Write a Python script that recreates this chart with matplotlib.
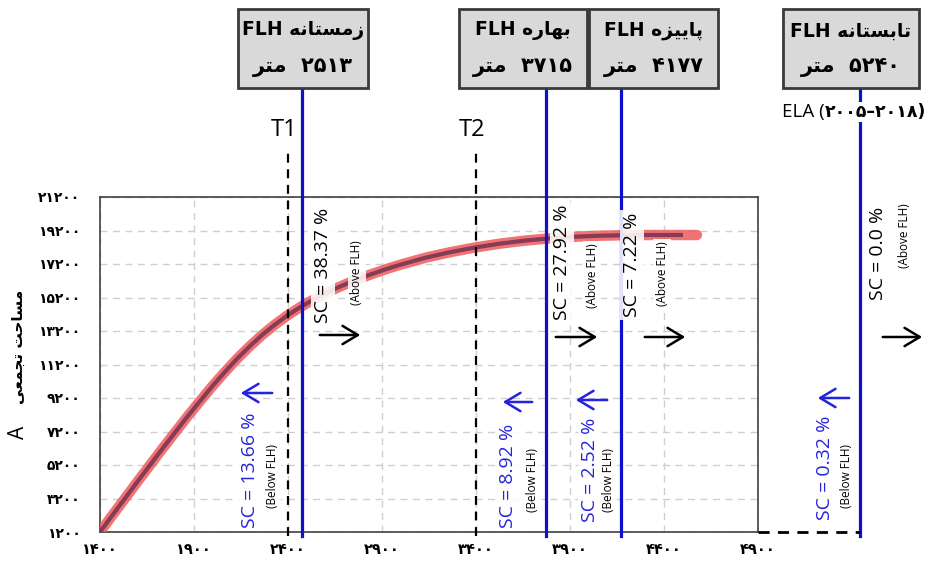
import matplotlib
matplotlib.use("Agg")
import matplotlib.pyplot as plt
import matplotlib.transforms as mtransforms
from matplotlib.patches import Rectangle, FancyArrowPatch

# ---------------- data ----------------
elev = [1400, 1466, 1533, 1599, 1666, 1732, 1799, 1865, 1932, 1998, 2065,
        2131, 2198, 2264, 2331, 2397, 2464, 2530, 2597, 2663, 2730, 2796,
        2863, 2929, 2996, 3129, 3262, 3395, 3528, 3661, 3794, 3927, 4060,
        4193, 4326, 4501, 4575]
area = [1200, 2203, 3206, 4203, 5194, 6173, 7140, 8089, 9015, 9910, 10764,
        11564, 12304, 12979, 13588, 14131, 14615, 15044, 15432, 15785, 16107,
        16400, 16668, 16919, 17152, 17570, 17904, 18185, 18417, 18597, 18734,
        18829, 18889, 18919, 18931, 18931, 18931]

seasons = ["زمستانه", "بهاره", "پاییزه", "تابستانه"]
flh_values = [2513, 3715, 4177, 5240]          # printed FLH (m)
flh_line_x = [2475, 3770, 4170, 5440]          # where the lines are drawn
sc_above = [38.37, 27.92, 7.22, 0.0]
sc_below = [13.66, 8.92, 2.52, 0.32]
t_lines = [2400, 3400]
t_labels = ["T1", "T2"]
ela_years = ("2005", "2018")
xticks = [1400, 1900, 2400, 2900, 3400, 3900, 4400, 4900]
yticks = [1200, 3200, 5200, 7200, 9200, 11200, 13200, 15200, 17200, 19200, 21200]

# ---------------- Persian helpers ----------------
FA_DIG = str.maketrans("0123456789", "۰۱۲۳۴۵۶۷۸۹")
def fa(v):
    return str(v).translate(FA_DIG)

FORMS = {
    "\u0627": ("\uFE8D", "\uFE8E", None, None),
    "\u0628": ("\uFE8F", "\uFE90", "\uFE91", "\uFE92"),
    "\u067E": ("\uFB56", "\uFB57", "\uFB58", "\uFB59"),
    "\u062A": ("\uFE95", "\uFE96", "\uFE97", "\uFE98"),
    "\u062C": ("\uFE9D", "\uFE9E", "\uFE9F", "\uFEA0"),
    "\u062D": ("\uFEA1", "\uFEA2", "\uFEA3", "\uFEA4"),
    "\u0631": ("\uFEAD", "\uFEAE", None, None),
    "\u0632": ("\uFEAF", "\uFEB0", None, None),
    "\u0633": ("\uFEB1", "\uFEB2", "\uFEB3", "\uFEB4"),
    "\u0639": ("\uFEC9", "\uFECA", "\uFECB", "\uFECC"),
    "\u0645": ("\uFEE1", "\uFEE2", "\uFEE3", "\uFEE4"),
    "\u0646": ("\uFEE5", "\uFEE6", "\uFEE7", "\uFEE8"),
    "\u0647": ("\uFEE9", "\uFEEA", "\uFEEB", "\uFEEC"),
    "\u06CC": ("\uFBFC", "\uFBFD", "\uFBFE", "\uFBFF"),
}

def rtl(s):
    out = []
    for i, c in enumerate(s):
        if c not in FORMS:
            out.append(c)
            continue
        prev = s[i - 1] if i > 0 else ""
        nxt = s[i + 1] if i + 1 < len(s) else ""
        jp = prev in FORMS and FORMS[prev][2] is not None
        jn = FORMS[c][2] is not None and nxt in FORMS
        idx = 3 if (jp and jn) else 1 if jp else 2 if jn else 0
        out.append(FORMS[c][idx])
    return "".join(out[::-1])

# ---------------- figure ----------------
W, H = 934, 567
fig = plt.figure(figsize=(W / 100, H / 100), dpi=100)
fig.patch.set_facecolor("white")
def fx(x): return x / W
def fy(y): return 1 - y / H

AX_L, AX_R, AX_T, AX_B = 100, 758, 197, 532
ax = fig.add_axes([fx(AX_L), fy(AX_B), fx(AX_R) - fx(AX_L), fy(AX_T) - fy(AX_B)])
def ay(ypix):  # pixel y -> axes fraction
    return (AX_B - ypix) / (AX_B - AX_T)

ax.set_xlim(xticks[0], xticks[-1])
ax.set_ylim(yticks[0], yticks[-1])
ax.set_xticks(xticks)
ax.set_yticks(yticks)
ax.set_xticklabels([fa(t) for t in xticks], fontsize=10.5, fontweight="bold",
                   family="DejaVu Sans")
ax.set_yticklabels([fa(t) for t in yticks], fontsize=10, fontweight="bold",
                   family="DejaVu Sans")
ax.tick_params(axis="both", length=0)
ax.tick_params(axis="y", pad=14)
ax.tick_params(axis="x", pad=7)
ax.grid(True, color="#cfcfcf", ls=(0, (5, 4)), lw=1)
ax.set_axisbelow(True)
for sp in ax.spines.values():
    sp.set_color("#404040")
    sp.set_linewidth(1.2)

# curve
ax.plot(elev, area, color="#f05a5a", lw=7.5, alpha=0.85,
        solid_capstyle="round", solid_joinstyle="round", zorder=3)
ax.plot(elev[:-1], area[:-1], color="#6b2d4f", lw=3, alpha=0.8,
        solid_capstyle="butt", solid_joinstyle="round", zorder=4)

blend = mtransforms.blended_transform_factory(ax.transData, ax.transAxes)

# FLH lines
BLUE_LINE = "#1010cc"
for x in flh_line_x:
    ax.plot([x, x], [ay(536), ay(88)], transform=blend, color=BLUE_LINE,
            lw=2.3, clip_on=False, zorder=5)

# T lines
for x, lab in zip(t_lines, t_labels):
    ax.plot([x, x], [ay(536), ay(148)], transform=blend, color="black",
            lw=1.6, ls=(0, (4, 3)), clip_on=False, zorder=5)
    ax.annotate(lab, xy=(x, ay(130)), xycoords=blend, xytext=(-4, 0),
                textcoords="offset pixels", ha="center", va="center",
                fontsize=17, family="Open Sans", annotation_clip=False)

# dashed baseline to ELA line
ax.plot([xticks[-1], flh_line_x[-1]], [yticks[0], yticks[0]], color="black",
        lw=2, ls=(0, (4, 3)), clip_on=False, zorder=5)

# FLH boxes
boxes = [(238, 368), (459, 587), (589, 718), (783, 919)]
for (l, r), name, val in zip(boxes, seasons, flh_values):
    fig.add_artist(Rectangle((fx(l), fy(88)), fx(r) - fx(l), fy(9) - fy(88),
                             transform=fig.transFigure, fc="#d9d9d9",
                             ec="#3a3a3a", lw=2, zorder=1))
    cx = fx((l + r) / 2)
    fig.text(cx, fy(31), "FLH " + rtl(name), ha="center", va="center",
             fontsize=13.5, fontweight="bold", family="DejaVu Sans", zorder=2)
    fig.text(cx, fy(67), rtl("متر") + "  " + fa(val), ha="center",
             va="center", fontsize=15, fontweight="bold",
             family="DejaVu Sans", zorder=2)

# ELA label
ela_bbox = dict(facecolor="white", edgecolor="none", pad=1)
fig.text(fx(825), fy(112), "ELA (", ha="right", va="center", fontsize=13.5,
         family="Open Sans", zorder=6)
fig.text(fx(825), fy(112), fa(ela_years[0]) + "–" + fa(ela_years[1]) + ")",
         ha="left", va="center", fontsize=12.5, fontweight="bold",
         family="DejaVu Sans", bbox=ela_bbox, zorder=6)

# y label
fig.text(fx(18), fy(432), "A", rotation=90, ha="center", va="center",
         fontsize=15, family="Open Sans")
fig.text(fx(18), fy(347), rtl("مساحت تجمعی"), rotation=90, ha="center",
         va="center", fontsize=11, fontweight="bold", family="DejaVu Sans")

# SC annotations (layout in pixels)
TXT_BLUE = "#2323e0"
wbox = dict(facecolor="white", edgecolor="none", alpha=0.88, pad=2)
above_main = [(323, 208), (562, 205), (632, 213), (878, 207)]
above_sub = [(357, 273), (592, 276), (662, 274), (905, 236)]
above_arrow = [(317, 363, 335), (553, 600, 337), (642, 688, 337), (880, 925, 337)]
below_main = [(250, 528), (508, 528), (590, 522), (825, 520)]
below_sub = [(272, 476), (533, 480), (608, 480), (846, 476)]
below_arrow = [(275, 238, 393), (535, 500, 402), (610, 573, 400), (852, 815, 398)]

for i in range(4):
    x, y = above_main[i]
    fig.text(fx(x), fy(y), f"SC = {sc_above[i]} %", rotation=90, ha="center",
             va="top", fontsize=14, family="Open Sans", color="black",
             bbox=wbox, zorder=7)
    x, y = above_sub[i]
    fig.text(fx(x), fy(y), "(Above FLH)", rotation=90, ha="center",
             va="center", fontsize=8.5, family="Open Sans", color="black",
             bbox=wbox, zorder=7)
    x0, x1, y = above_arrow[i]
    fig.add_artist(FancyArrowPatch(
        (fx(x0), fy(y)), (fx(x1), fy(y)), transform=fig.transFigure,
        arrowstyle="->,head_length=0.5,head_width=0.3", mutation_scale=22,
        color="black", lw=1.8, zorder=7))

    x, y = below_main[i]
    fig.text(fx(x), fy(y), f"SC = {sc_below[i]} %", rotation=90, ha="center",
             va="bottom", fontsize=14, family="Open Sans", color=TXT_BLUE,
             bbox=wbox, zorder=7)
    x, y = below_sub[i]
    fig.text(fx(x), fy(y), "(Below FLH)", rotation=90, ha="center",
             va="center", fontsize=8.5, family="Open Sans", color="black",
             bbox=wbox, zorder=7)
    x0, x1, y = below_arrow[i]
    fig.add_artist(FancyArrowPatch(
        (fx(x0), fy(y)), (fx(x1), fy(y)), transform=fig.transFigure,
        arrowstyle="->,head_length=0.5,head_width=0.3", mutation_scale=22,
        color=TXT_BLUE, lw=1.8, zorder=7))

fig.savefig("out.png", dpi=100)
